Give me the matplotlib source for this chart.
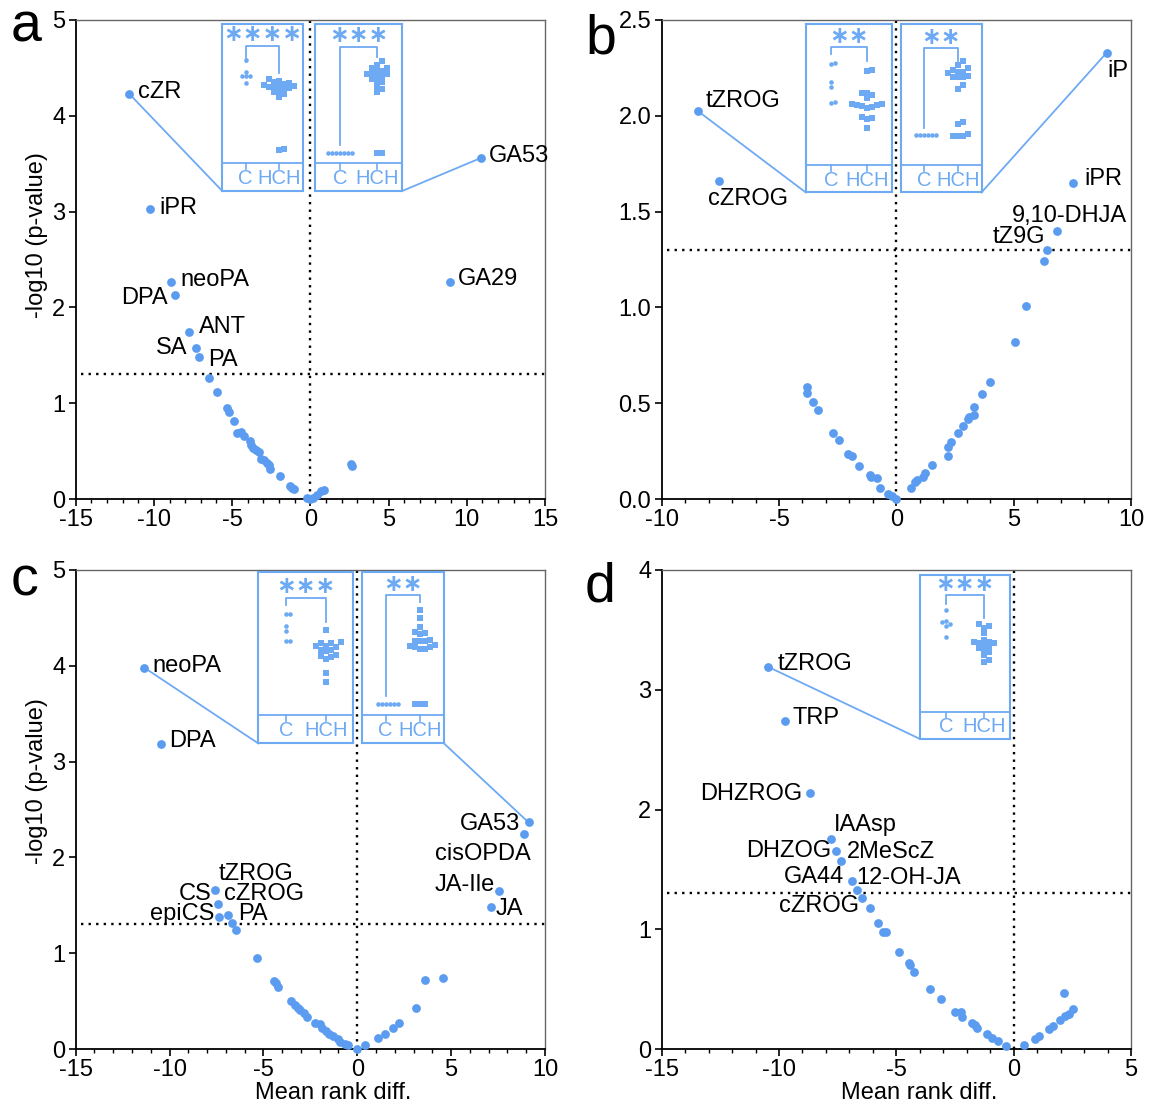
import numpy as np
import matplotlib.pyplot as plt
from matplotlib.ticker import MultipleLocator, FormatStrFormatter

plt.rcParams['font.family'] = ['Liberation Sans', 'DejaVu Sans']
plt.rcParams['axes.unicode_minus'] = False

blue = '#5b9cf0'
lblue = '#6eaaf3'

# ---- panel a ----
a_names = ['cZR', 'iPR', 'neoPA', 'DPA', 'ANT', 'SA', 'PA', 'GA53', 'GA29']
a_diff = [-11.58, -10.23, -8.90, -8.67, -7.77, -7.32, -7.09, 10.91, 8.90,
          -6.45, -5.98, -5.32, -5.20, -4.89, -4.70, -4.44, -4.25, -3.85, -3.78,
          -3.64, -3.47, -3.31, -3.14, -2.95, -2.79, -2.67, -2.57, -1.96, -1.30,
          -1.18, -1.06, -0.24, 0.0, 0.19, 0.43, 0.66, 0.90, 2.60, 2.67]
a_logp = [4.23, 3.03, 2.26, 2.13, 1.74, 1.58, 1.48, 3.56, 2.26,
          1.26, 1.12, 0.95, 0.91, 0.81, 0.69, 0.70, 0.66, 0.61, 0.56,
          0.53, 0.51, 0.49, 0.42, 0.41, 0.375, 0.35, 0.31, 0.235, 0.14,
          0.115, 0.105, 0.007, 0.0, 0.014, 0.04, 0.08, 0.09, 0.37, 0.34]

# ---- panel b ----
b_names = ['tZROG', 'cZROG', 'iP', 'iPR', '9,10-DHJA', 'tZ9G']
b_diff = [-8.46, -7.56, 8.97, 7.53, 6.86, 6.42,
          6.31, 5.53, 5.06, 3.99, 3.65, 3.32, 3.32, 3.10, 3.05, 2.85, 2.63,
          2.32, 2.19, 2.19, 1.52, 1.21, 1.13, 0.86, 0.81, 0.63, 0.0, -0.19,
          -0.34, -0.70, -0.83, -1.10, -1.14, -1.57, -1.91, -2.04, -2.46,
          -2.69, -3.35, -3.57, -3.79, -3.79]
b_logp = [2.025, 1.66, 2.33, 1.65, 1.40, 1.30,
          1.24, 1.005, 0.82, 0.61, 0.55, 0.48, 0.44, 0.43, 0.42, 0.38, 0.345,
          0.30, 0.27, 0.225, 0.18, 0.135, 0.117, 0.10, 0.09, 0.06, 0.0, 0.018,
          0.027, 0.06, 0.108, 0.117, 0.126, 0.17, 0.225, 0.234, 0.31,
          0.346, 0.465, 0.508, 0.555, 0.585]

# ---- panel c ----
c_names = ['neoPA', 'DPA', 'CS', 'cZROG', 'epiCS', 'tZROG', 'PA',
           'GA53', 'cisOPDA', 'JA-Ile', 'JA']
c_diff = [-11.34, -10.45, -7.56, -7.40, -7.34, -6.91, -6.65, 9.13, 8.88, 7.56, 7.11,
          -6.46, -5.33, -4.45, -4.35, -4.21, -3.52, -3.33, -3.17, -3.03, -2.83,
          -2.68, -2.24, -1.97, -1.89, -1.69, -1.50, -1.30, -1.0, -0.91, -0.67,
          -0.51, 0.0, 0.43, 1.10, 1.46, 1.89, 2.20, 3.13, 3.62, 4.57]
c_logp = [3.98, 3.18, 1.66, 1.515, 1.375, 1.40, 1.32, 2.365, 2.24, 1.645, 1.48,
          1.245, 0.95, 0.71, 0.69, 0.65, 0.50, 0.46, 0.43, 0.41, 0.38,
          0.33, 0.27, 0.26, 0.22, 0.185, 0.16, 0.14, 0.10, 0.074, 0.055,
          0.037, 0.0, 0.044, 0.11, 0.16, 0.22, 0.27, 0.43, 0.72, 0.74]

# ---- panel d ----
d_names = ['tZROG', 'TRP', 'DHZROG', 'IAAsp', 'DHZOG', '2MeScZ', 'GA44',
           '12-OH-JA', 'cZROG']
d_diff = [-10.45, -9.76, -8.67, -7.79, -7.55, -7.34, -6.90, -6.66, -6.46,
          -6.11, -5.77, -5.56, -5.44, -4.89, -4.44, -4.42, -4.23, -3.56, -3.10,
          -2.48, -2.23, -2.19, -1.76, -1.65, -1.57, -1.13, -0.91, -0.67, -0.34,
          0.44, 0.89, 1.10, 1.52, 1.68, 1.99, 2.16, 2.19, 2.35, 2.55]
d_logp = [3.19, 2.74, 2.14, 1.75, 1.65, 1.57, 1.40, 1.325, 1.26,
          1.18, 1.05, 0.98, 0.98, 0.81, 0.72, 0.70, 0.645, 0.50, 0.42,
          0.31, 0.31, 0.27, 0.216, 0.198, 0.178, 0.127, 0.089, 0.065, 0.024,
          0.036, 0.083, 0.112, 0.169, 0.192, 0.246, 0.465, 0.272, 0.296, 0.334]

# inset values (C vs HCH), as fraction of inset height
a1_c = [0.785, 0.71, 0.69, 0.69, 0.685, 0.645]
a1_h = [0.668, 0.66, 0.65, 0.645, 0.64, 0.635, 0.63, 0.63, 0.625, 0.62, 0.615,
        0.61, 0.60, 0.59, 0.58, 0.565, 0.25, 0.245]
a2_c = [0.226, 0.226, 0.226, 0.226, 0.226, 0.226, 0.226]
a2_h = [0.775, 0.755, 0.735, 0.735, 0.72, 0.72, 0.70, 0.70, 0.70, 0.69, 0.68,
        0.67, 0.66, 0.65, 0.63, 0.61, 0.59, 0.226, 0.226]
b1_c = [0.768, 0.762, 0.653, 0.623, 0.536, 0.53]
b1_h = [0.728, 0.718, 0.59, 0.59, 0.575, 0.56, 0.525, 0.525, 0.52, 0.52, 0.515,
        0.505, 0.50, 0.45, 0.44, 0.435, 0.385]
b2_c = [0.341, 0.341, 0.341, 0.341, 0.341, 0.341]
b2_h = [0.778, 0.758, 0.738, 0.728, 0.714, 0.714, 0.708, 0.69, 0.683, 0.683,
        0.683, 0.635, 0.615, 0.42, 0.405, 0.345, 0.337, 0.337, 0.337]
c1_c = [0.757, 0.753, 0.683, 0.656, 0.60, 0.60]
c1_h = [0.66, 0.59, 0.586, 0.586, 0.57, 0.57, 0.565, 0.545, 0.545, 0.54,
        0.515, 0.51, 0.505, 0.49, 0.41, 0.36]
c2_c = [0.229, 0.229, 0.229, 0.229, 0.229, 0.229]
c2_h = [0.78, 0.73, 0.68, 0.65, 0.645, 0.64, 0.605, 0.60, 0.60, 0.595, 0.575,
        0.57, 0.565, 0.565, 0.553, 0.553, 0.229, 0.229, 0.229]
d1_c = [0.787, 0.72, 0.71, 0.70, 0.69, 0.62]
d1_h = [0.70, 0.69, 0.676, 0.646, 0.603, 0.59, 0.59, 0.585, 0.585, 0.57, 0.56,
        0.555, 0.54, 0.53, 0.51, 0.48, 0.47]

# label offsets in pixels (dx, dy, ha)
a_off = {'cZR': (9, 2, 'left'), 'iPR': (9, 1, 'left'), 'neoPA': (9, 2, 'left'),
         'DPA': (-7, -3, 'right'), 'ANT': (10, 5, 'left'), 'SA': (-8, 0, 'right'),
         'PA': (9, -3, 'left'), 'GA53': (8, 2, 'left'), 'GA29': (8, 3, 'left')}
b_off = {'tZROG': (8, 10, 'left'), 'cZROG': (-11, -18, 'left'), 'iP': (1, -18, 'left'),
         'iPR': (11, 4, 'left'), '9,10-DHJA': (70, 15, 'right'), 'tZ9G': (-2, 13, 'right')}
c_off = {'neoPA': (8, 2, 'left'), 'DPA': (8, 3, 'left'), 'CS': (-4, -4, 'right'),
         'cZROG': (6, 10, 'left'), 'epiCS': (-5, 3, 'right'), 'tZROG': (-9, 41, 'left'),
         'PA': (6, 9, 'left'), 'GA53': (-8, -2, 'right'), 'cisOPDA': (7, -20, 'right'),
         'JA-Ile': (-4, 6, 'right'), 'JA': (5, -2, 'left')}
d_off = {'tZROG': (9, 3, 'left'), 'TRP': (8, 3, 'left'), 'DHZROG': (-8, -1, 'right'),
         'IAAsp': (3, 14, 'left'), 'DHZOG': (-5, 0, 'right'), '2MeScZ': (5, 9, 'left'),
         'GA44': (-8, 4, 'right'), '12-OH-JA': (-1, 12, 'left'), 'cZROG': (-3, -8, 'right')}

fig = plt.figure(figsize=(11.57, 11.04), dpi=100)
W, H = 0.4056, 0.4339
ax_a = fig.add_axes([0.0654, 0.548, W, H])
ax_b = fig.add_axes([0.5719, 0.548, W, H])
ax_c = fig.add_axes([0.0654, 0.0498, W, H])
ax_d = fig.add_axes([0.5719, 0.0498, W, H])


def panel(ax, diff, logp, names, offs, xlim, ylim, ystep, yfmt):
    ax.scatter(diff, logp, s=40, color=blue, linewidths=0, zorder=3, clip_on=False)
    ax.axvline(0, color='black', ls=(0, (1, 2.2)), lw=1.7, zorder=1)
    ax.axhline(-np.log10(0.05), xmin=0.012, color='black', ls=(0, (1, 2.2)), lw=1.7, zorder=1)
    for i, nm in enumerate(names):
        dx, dy, ha = offs[nm]
        ax.annotate(nm, (diff[i], logp[i]), xytext=(dx, dy), textcoords='offset pixels',
                    ha=ha, va='center', fontsize=17)
    ax.set_xlim(xlim)
    ax.set_ylim(ylim)
    ax.xaxis.set_major_locator(MultipleLocator(5))
    ax.xaxis.set_minor_locator(MultipleLocator(1))
    ax.yaxis.set_major_locator(MultipleLocator(ystep))
    ax.yaxis.set_major_formatter(FormatStrFormatter(yfmt))
    ax.tick_params(which='major', direction='out', length=5, width=1.2, labelsize=17, pad=2.5)
    ax.tick_params(which='minor', direction='out', length=3, width=1.0)
    for s in ['left', 'bottom']:
        ax.spines[s].set_linewidth(1.3)
    for s in ['top', 'right']:
        ax.spines[s].set_color('#666666')
        ax.spines[s].set_linewidth(1.0)


def swarm(ins, vals, xc, wpx, hpx, dpx, marker, ms):
    # simple beeswarm: shift sideways until the point does not overlap
    placed = []
    for v in sorted(vals):
        y = v * hpx
        k = 0
        while True:
            off = ((k + 1) // 2) * dpx * (1 if k % 2 else -1) if k else 0.0
            if all((off - px) ** 2 + (y - py) ** 2 >= (0.95 * dpx) ** 2 for px, py in placed):
                break
            k += 1
        placed.append((off, y))
    xs = [xc + p[0] / wpx for p in placed]
    ys = [p[1] / hpx for p in placed]
    ins.plot(xs, ys, ls='none', marker=marker, ms=ms, color=lblue, mew=0)


def inset(ax, bounds, cvals, hvals, stars, brk, lleg, rleg, pt, side):
    x0, y0, w, h = bounds
    p0 = ax.transData.transform((x0, y0))
    p1 = ax.transData.transform((x0 + w, y0 + h))
    wpx, hpx = p1[0] - p0[0], p1[1] - p0[1]
    ins = ax.inset_axes(bounds, transform=ax.transData)
    ins.set_xlim(0, 1)
    ins.set_ylim(0, 1)
    ins.set_xticks([])
    ins.set_yticks([])
    ins.set_facecolor('white')
    for s in ins.spines.values():
        s.set_color(lblue)
        s.set_linewidth(1.5)
    sep = 0.165
    xc, xh = 0.29, 0.71
    ins.axhline(sep, color=lblue, lw=1.3)
    for xx in (xc, xh):
        ins.plot([xx, xx], [sep, sep - 0.035], color=lblue, lw=1.2)
    ins.text(xc, sep / 2 - 0.01, 'C', ha='center', va='center', fontsize=14.5, color=lblue)
    ins.text(xh, sep / 2 - 0.01, 'HCH', ha='center', va='center', fontsize=14.5, color=lblue)
    swarm(ins, cvals, xc, wpx, hpx, 4.0, 'o', 3.3)
    swarm(ins, hvals, xh, wpx, hpx, 5.0, 's', 3.7)
    ins.plot([xc, xc, xh, xh], [lleg, brk, brk, rleg], color=lblue, lw=1.3)
    ins.text((xc + xh) / 2, brk - 0.005, '\u2217' * stars, ha='center', va='bottom',
             fontsize=17, color=lblue, family='DejaVu Sans', fontweight='bold')
    cx = x0 if side == 'left' else x0 + w
    ax.plot([pt[0], cx], [pt[1], y0], color=lblue, lw=1.3, zorder=2)


panel(ax_a, a_diff, a_logp, a_names, a_off, (-15, 15), (0, 5), 1, '%d')
panel(ax_b, b_diff, b_logp, b_names, b_off, (-10, 10), (0, 2.5), 0.5, '%.1f')
panel(ax_c, c_diff, c_logp, c_names, c_off, (-15, 10), (0, 5), 1, '%d')
panel(ax_d, d_diff, d_logp, d_names, d_off, (-15, 5), (0, 4), 1, '%d')

inset(ax_a, (-5.63, 3.215, 5.14, 1.745), a1_c, a1_h, 4, 0.87, 0.774, 0.705,
      (a_diff[0], a_logp[0]), 'left')
inset(ax_a, (0.31, 3.215, 5.56, 1.745), a2_c, a2_h, 3, 0.864, 0.275, 0.804,
      (a_diff[7], a_logp[7]), 'right')
inset(ax_b, (-3.86, 1.60, 3.685, 0.88), b1_c, b1_h, 2, 0.863, 0.823, 0.778,
      (b_diff[0], b_logp[0]), 'left')
inset(ax_b, (0.18, 1.60, 3.45, 0.88), b2_c, b2_h, 2, 0.857, 0.385, 0.782,
      (b_diff[2], b_logp[2]), 'right')
inset(ax_c, (-5.27, 3.19, 5.06, 1.79), c1_c, c1_h, 3, 0.85, 0.806, 0.709,
      (c_diff[0], c_logp[0]), 'left')
inset(ax_c, (0.24, 3.19, 4.38, 1.79), c2_c, c2_h, 2, 0.864, 0.276, 0.825,
      (c_diff[7], c_logp[7]), 'right')
inset(ax_d, (-4.0, 2.59, 3.84, 1.37), d1_c, d1_h, 3, 0.874, 0.824, 0.739,
      (d_diff[0], d_logp[0]), 'left')

for ax in (ax_a, ax_c):
    ax.set_ylabel('-log10 (p-value)', fontsize=17)
ax_a.yaxis.set_label_coords(-0.059, 0.55)
ax_c.yaxis.set_label_coords(-0.059, 0.56)
for ax in (ax_c, ax_d):
    ax.set_xlabel('Mean rank diff.', fontsize=17)
    ax.xaxis.set_label_coords(0.548, -0.068)

fig.text(11 / 1157, 1 - 42 / 1104, 'a', fontsize=40, va='baseline')
fig.text(585 / 1157, 1 - 54 / 1104, 'b', fontsize=40, va='baseline')
fig.text(11 / 1157, 1 - 596 / 1104, 'c', fontsize=40, va='baseline')
fig.text(585 / 1157, 1 - 601 / 1104, 'd', fontsize=40, va='baseline')

fig.savefig('out.png', dpi=100)
